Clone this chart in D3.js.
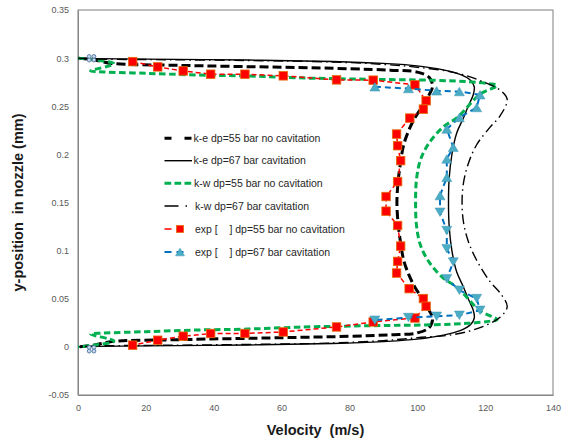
<!DOCTYPE html>
<html>
<head>
<meta charset="utf-8">
<script src="https://cdn.jsdelivr.net/npm/d3@7/dist/d3.min.js"></script>
<style>
  html, body { margin: 0; padding: 0; background: #fff; }
  svg { display: block; font-family: "Liberation Sans", Arial, sans-serif; }
</style>
</head>
<body>
<svg id="chart" width="562" height="441"></svg>
<script>
// ---------------- DATA ----------------
const xTickValues = [0, 20, 40, 60, 80, 100, 120, 140];
const xTickLabels = ["0", "20", "40", "60", "80", "100", "120", "140"];
const yTickValues = [-0.05, 0, 0.05, 0.1, 0.15, 0.2, 0.25, 0.3, 0.35];
const yTickLabels = ["-0.05", "0", "0.05", "0.1", "0.15", "0.2", "0.25", "0.3", "0.35"];

const seriesNames = [
  "k-e dp=55 bar no cavitation",
  "k-e dp=67 bar cavitation",
  "k-w dp=55 bar no cavitation",
  "k-w dp=67 bar cavitation",
  "exp [    ] dp=55 bar no cavitation",
  "exp [    ] dp=67 bar cavitation"
];

// k-e dp=55 bar no cavitation
const ke55Vel = [0, 5, 10, 30, 60, 80, 92, 100, 103.5, 104.5, 103.5, 101.5, 99.3, 97.5, 96, 95, 94.3, 94,
                 94.3, 95, 96, 97.5, 99.3, 101.5, 103.5, 104.5, 103.5, 100, 92, 80, 60, 30, 10, 5, 0];
const ke55Y = [0.300, 0.298, 0.2945, 0.2925, 0.2905, 0.289, 0.2875, 0.2855, 0.280, 0.271, 0.262, 0.250, 0.238, 0.225, 0.210, 0.190, 0.170, 0.150,
               0.130, 0.110, 0.090, 0.075, 0.062, 0.050, 0.038, 0.029, 0.020, 0.0145, 0.0125, 0.011, 0.0095, 0.0075, 0.0055, 0.002, 0.000];

// k-e dp=67 bar cavitation
const ke67Vel = [0, 5, 20, 50, 75, 90, 100, 108, 113, 115.8, 116.8, 116.5, 115, 113.5, 111.6, 110.2, 109.4, 109.2,
                 109.4, 110.2, 111.6, 113.5, 115, 116.5, 116.8, 115.8, 113, 108, 100, 90, 75, 50, 20, 5, 0];
const ke67Y = [0.300, 0.2995, 0.299, 0.298, 0.2965, 0.2945, 0.292, 0.2875, 0.2825, 0.2765, 0.270, 0.262, 0.250, 0.237, 0.222, 0.200, 0.175, 0.150,
               0.125, 0.100, 0.078, 0.063, 0.050, 0.038, 0.030, 0.0235, 0.0175, 0.0125, 0.008, 0.0055, 0.0035, 0.002, 0.001, 0.0005, 0.000];

// k-w dp=55 bar no cavitation
const kw55Vel = [0, 4.3, 10.6, 3.7, 7.5, 20, 35, 50, 65, 86, 105, 115, 121, 123.5, 118.5, 112, 107.5, 103.5, 101, 99.8, 99.5,
                 99.8, 101, 103.5, 107.5, 112, 118.5, 123.5, 121, 115, 105, 86, 65, 50, 35, 20, 7.5, 3.7, 10.6, 4.3, 0];
const kw55Y = [0.300, 0.2985, 0.294, 0.2867, 0.2857, 0.2842, 0.2825, 0.2815, 0.2795, 0.278, 0.277, 0.2755, 0.2735, 0.2715, 0.2625, 0.239, 0.228, 0.212, 0.195, 0.175, 0.150,
               0.125, 0.105, 0.088, 0.072, 0.061, 0.0375, 0.0285, 0.0265, 0.0245, 0.023, 0.022, 0.0205, 0.0185, 0.0175, 0.0158, 0.0143, 0.0133, 0.006, 0.0015, 0.000];

// k-w dp=67 bar cavitation
const kw67Vel = [0, 5, 20, 50, 75, 90, 100, 111, 119, 124.7, 126.5, 124.4, 121.4, 117.5, 115, 113.6, 113.2,
                 113.6, 115, 117.5, 121.4, 124.4, 126.5, 124.5, 118.5, 111, 100, 90, 75, 50, 20, 5, 0];
const kw67Y = [0.300, 0.299, 0.2985, 0.2975, 0.296, 0.2935, 0.2905, 0.285, 0.276, 0.266, 0.257, 0.240, 0.228, 0.210, 0.190, 0.170, 0.150,
               0.130, 0.110, 0.090, 0.068, 0.056, 0.042, 0.031, 0.020, 0.013, 0.0095, 0.0065, 0.004, 0.0025, 0.0015, 0.001, 0.000];

// exp [ ] dp=55 bar no cavitation
const exp55Vel = [16.1, 23.5, 31.0, 39.1, 49.2, 60.5, 76.2, 87.0, 99.3, 102.6, 101.8, 97.8, 93.9, 94.2, 95.1, 94.2, 90.8,
                  90.8, 94.2, 95.1, 94.2, 93.9, 97.6, 101.8, 102.6, 99.3, 87.0, 76.2, 60.5, 49.2, 39.1, 31.0, 23.5, 16.1];
const exp55Y = [0.2964, 0.2909, 0.2867, 0.2833, 0.2833, 0.2816, 0.2774, 0.2771, 0.2722, 0.2557, 0.247, 0.2377, 0.2211, 0.209, 0.1935, 0.1717, 0.1562,
                0.141, 0.1261, 0.1047, 0.0888, 0.0767, 0.0605, 0.0502, 0.0422, 0.030, 0.0259, 0.0207, 0.0155, 0.0139, 0.0139, 0.0111, 0.0069, 0.0018];

// exp [ ] dp=67 bar cavitation (upper half / lower half markers)
const exp67Vel = [87.5, 97.4, 105.7, 112.4, 118.5, 117.5, 112.4, 108.7, 110.6, 108.7, 108.7, 106.7,
                  106.7, 108.7, 108.7, 110.6, 108.7, 112.4, 117.5, 118.5, 112.4, 105.7, 97.4, 87.5];
const exp67Y = [0.2702, 0.2684, 0.266, 0.2653, 0.2619, 0.2487, 0.2383, 0.2263, 0.2073, 0.1952, 0.1762, 0.1572,
                0.1399, 0.1209, 0.102, 0.0881, 0.0709, 0.0588, 0.0502, 0.038, 0.0328, 0.0318, 0.0305, 0.0277];

// small wall markers
const wallVel = [3.3, 4.7, 3.3, 4.7, 3.3, 4.7, 3.3, 4.7];
const wallY = [0.3017, 0.3017, 0.2980, 0.2980, -0.0006, -0.0006, -0.0044, -0.0044];

// ---------------- LAYOUT ----------------
const W = 562, H = 441;
const plot = { left: 78, right: 553, top: 10, bottom: 395 };
const svg = d3.select("#chart");

const x = d3.scaleLinear().domain([0, 140]).range([plot.left, plot.right]);
const y = d3.scaleLinear().domain([-0.05, 0.35]).range([plot.bottom, plot.top]);

// frame
svg.append("rect")
  .attr("x", plot.left).attr("y", plot.top)
  .attr("width", plot.right - plot.left).attr("height", plot.bottom - plot.top)
  .attr("fill", "none").attr("stroke", "#7f7f7f").attr("stroke-width", 1);

// axes (labels only, no tick marks)
const xAxis = d3.axisBottom(x).tickValues(xTickValues)
  .tickFormat((d, i) => xTickLabels[i]).tickSize(0).tickPadding(10);
const gx = svg.append("g").attr("transform", `translate(0,${plot.bottom})`).call(xAxis);
gx.select(".domain").attr("stroke", "#868686");
gx.selectAll("text").attr("fill", "#595959").style("font-size", "9px")
  .style("font-family", '"Liberation Sans", Arial, sans-serif');

const yAxis = d3.axisLeft(y).tickValues(yTickValues)
  .tickFormat((d, i) => yTickLabels[i]).tickSize(0).tickPadding(9);
const gy = svg.append("g").attr("transform", `translate(${plot.left},0)`).call(yAxis);
gy.select(".domain").attr("stroke", "#868686");
gy.selectAll("text").attr("fill", "#595959").style("font-size", "9px")
  .style("font-family", '"Liberation Sans", Arial, sans-serif');

// titles
svg.append("text").attr("x", (plot.left + plot.right) / 2).attr("y", 435)
  .attr("text-anchor", "middle").style("font-size", "14.5px").style("font-weight", "bold")
  .style("white-space", "pre").attr("fill", "#1a1a1a").text("Velocity  (m/s)");
svg.append("text")
  .attr("transform", `translate(23,${(plot.top + plot.bottom) / 2}) rotate(-90)`)
  .attr("text-anchor", "middle").style("font-size", "14.5px").style("font-weight", "bold")
  .style("white-space", "pre").attr("fill", "#1a1a1a").text("y-position  in nozzle (mm)");

// ---------------- SERIES ----------------
const zip = (a, b) => a.map((v, i) => [v, b[i]]);
const smooth = d3.line().x(d => x(d[0])).y(d => y(d[1])).curve(d3.curveCatmullRom.alpha(0.5));
const straight = d3.line().x(d => x(d[0])).y(d => y(d[1]));

const g = svg.append("g");

const styles = [
  { color: "#000", width: 3, dash: "9,4", legendDash: "7,13" },
  { color: "#000", width: 1.4, dash: null, legendDash: null },
  { color: "#00b050", width: 3, dash: "6.5,3.5", legendDash: "6.7,3.3" },
  { color: "#000", width: 1.4, dash: "10,4,1.5,4", legendDash: "14,7,1.5,10" },
  { color: "#ff0000", width: 1.5, dash: "5,3", legendDash: "7,5" },
  { color: "#0070c0", width: 2, dash: "6,4", legendDash: "7,5" }
];

const modelData = [zip(ke55Vel, ke55Y), zip(ke67Vel, ke67Y), zip(kw55Vel, kw55Y), zip(kw67Vel, kw67Y)];
modelData.forEach((pts, i) => {
  const s = styles[i];
  g.append("path").attr("d", smooth(pts)).attr("fill", "none")
    .attr("stroke", s.color).attr("stroke-width", s.width)
    .attr("stroke-dasharray", s.dash);
});

// wall markers
g.selectAll("circle.wall").data(zip(wallVel, wallY)).join("circle")
  .attr("class", "wall").attr("cx", d => x(d[0])).attr("cy", d => y(d[1])).attr("r", 1.9)
  .attr("fill", "#c6d9f0").attr("stroke", "#5b7ea6").attr("stroke-width", 1);

// exp 55
const e55 = zip(exp55Vel, exp55Y);
g.append("path").attr("d", straight(e55)).attr("fill", "none")
  .attr("stroke", styles[4].color).attr("stroke-width", styles[4].width)
  .attr("stroke-dasharray", styles[4].dash);
const sq = 8.5;
g.selectAll("rect.e55").data(e55).join("rect").attr("class", "e55")
  .attr("x", d => x(d[0]) - sq / 2).attr("y", d => y(d[1]) - sq / 2)
  .attr("width", sq).attr("height", sq)
  .attr("fill", "#ff0000").attr("stroke", "#e46c0a").attr("stroke-width", 0.8);

// exp 67
const e67 = zip(exp67Vel, exp67Y);
g.append("path").attr("d", straight(e67)).attr("fill", "none")
  .attr("stroke", styles[5].color).attr("stroke-width", styles[5].width)
  .attr("stroke-dasharray", styles[5].dash);
const tri = (cx, cy, up, s) => {
  const h = s * 0.85, w = s / 2;
  return up
    ? `M${cx},${cy - h / 2}L${cx + w},${cy + h / 2}L${cx - w},${cy + h / 2}Z`
    : `M${cx},${cy + h / 2}L${cx + w},${cy - h / 2}L${cx - w},${cy - h / 2}Z`;
};
g.selectAll("path.e67").data(e67).join("path").attr("class", "e67")
  .attr("d", d => tri(x(d[0]), y(d[1]), d[1] > 0.15, 10))
  .attr("fill", "#4bacc6").attr("stroke", "#3f95b0").attr("stroke-width", 0.5);

// ---------------- LEGEND ----------------
const legRows = [138.3, 160.7, 183.3, 206, 229, 252];
const legText = [193.5, 193.5, 194, 195, 195, 195];
const leg = svg.append("g");
seriesNames.forEach((name, i) => {
  const s = styles[i];
  const yy = legRows[i];
  const x2 = i >= 4 ? 187 : 192;
  leg.append("line").attr("x1", 164.5).attr("x2", x2).attr("y1", yy).attr("y2", yy)
    .attr("stroke", s.color).attr("stroke-width", s.width)
    .attr("stroke-dasharray", s.legendDash);
  if (i === 4) {
    leg.append("rect").attr("x", 180 - 3.5).attr("y", yy - 3.5).attr("width", 7).attr("height", 7)
      .attr("fill", "#ff0000").attr("stroke", "#e46c0a").attr("stroke-width", 0.8);
  }
  if (i === 5) {
    leg.append("path").attr("d", tri(180, yy, true, 9))
      .attr("fill", "#4bacc6").attr("stroke", "#3f95b0").attr("stroke-width", 0.5);
  }
  leg.append("text").attr("x", legText[i]).attr("y", yy + 3.7)
    .style("font-size", "10.5px").style("white-space", "pre").attr("fill", "#262626")
    .text(name);
});
</script>
</body>
</html>
